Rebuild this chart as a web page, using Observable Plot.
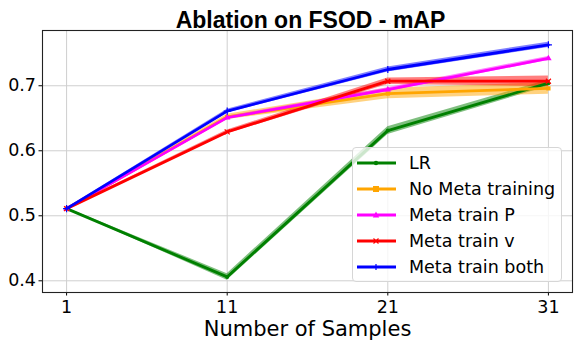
<!DOCTYPE html>
<html>
<head>
<meta charset="utf-8">
<script src="https://cdn.jsdelivr.net/npm/d3@7"></script>
<script src="https://cdn.jsdelivr.net/npm/@observablehq/plot@0.6"></script>
<style>
  html, body { margin: 0; padding: 0; background: white; }
  #wrap { position: relative; width: 581px; height: 349px; }
  #legend { position: absolute; left: 352px; top: 147px; width: 210px; height: 135px;
    background: rgba(255,255,255,0.8); border: 1px solid #d6d6d6; border-radius: 4px;
    font-family: "DejaVu Sans"; font-size: 17.5px; color: black; box-sizing: border-box; }
  .row { position: absolute; left: 0; height: 26px; display: flex; align-items: center; }
  .row svg { margin-left: 4px; }
  .row span { margin-left: 13px; white-space: nowrap; }
</style>
</head>
<body>
<div id="wrap"></div>
<script>
const title = "Ablation on FSOD - mAP";
const xLabel = "Number of Samples";
const samples = [1, 11, 21, 31];
const xTicks = [1, 11, 21, 31];
const yTicks = [0.4, 0.5, 0.6, 0.7];

const seriesNames = ["LR", "No Meta training", "Meta train P", "Meta train v", "Meta train both"];
const seriesColors = ["#008000", "#FFA500", "#FF00FF", "#FF0000", "#0000FF"];
const seriesSymbols = ["circle", "square", "triangle", "times", "plus"];

const lrValues       = [0.511, 0.406, 0.631, 0.704];
const noMetaValues   = [0.511, 0.652, 0.688, 0.696];
const metaPValues    = [0.511, 0.651, 0.694, 0.742];
const metaVValues    = [0.511, 0.629, 0.707, 0.707];
const metaBothValues = [0.511, 0.661, 0.725, 0.763];

const lrStd       = [0.001, 0.005, 0.006, 0.005];
const noMetaStd   = [0.001, 0.004, 0.008, 0.009];
const metaPStd    = [0.001, 0.002, 0.003, 0.003];
const metaVStd    = [0.001, 0.003, 0.005, 0.008];
const metaBothStd = [0.001, 0.003, 0.004, 0.004];

const allValues = [lrValues, noMetaValues, metaPValues, metaVValues, metaBothValues];
const allStd = [lrStd, noMetaStd, metaPStd, metaVStd, metaBothStd];

const rows = [];
seriesNames.forEach((name, i) => {
  samples.forEach((s, j) => {
    rows.push({series: name, x: s, y: allValues[i][j], lo: allValues[i][j] - allStd[i][j], hi: allValues[i][j] + allStd[i][j], idx: i});
  });
});

const marks = [
  Plot.gridX(xTicks, {stroke: "#cfcfcf", strokeOpacity: 1, strokeWidth: 1}),
  Plot.gridY(yTicks, {stroke: "#cfcfcf", strokeOpacity: 1, strokeWidth: 1}),
];
seriesNames.forEach((name, i) => {
  const d = rows.filter(r => r.series === name);
  marks.push(Plot.areaY(d, {x: "x", y1: "lo", y2: "hi", fill: seriesColors[i], fillOpacity: 0.5}));
});
seriesNames.forEach((name, i) => {
  const d = rows.filter(r => r.series === name);
  marks.push(Plot.lineY(d, {x: "x", y: "y", stroke: seriesColors[i], strokeWidth: 2.8}));
  const stroky = seriesSymbols[i] === "times" || seriesSymbols[i] === "plus";
  marks.push(Plot.dot(d, {x: "x", y: "y", symbol: () => seriesSymbols[i],
    r: seriesSymbols[i] === "circle" ? 2 : 2.4,
    fill: stroky ? "none" : seriesColors[i], stroke: stroky ? seriesColors[i] : "none", strokeWidth: 1.2}));
});
marks.push(Plot.frame({stroke: "#222", strokeWidth: 1.1}));
marks.push(Plot.text([title], {frameAnchor: "top", dy: -19, dx: 3, fontFamily: "Liberation Sans", fontWeight: "bold", fontSize: 23, fill: "black"}));
marks.push(Plot.text([xLabel], {frameAnchor: "bottom", dy: 43, fontFamily: "DejaVu Sans", fontSize: 21, fill: "black"}));

const chart = Plot.plot({
  width: 581, height: 349,
  marginLeft: 42, marginRight: 9, marginTop: 30, marginBottom: 57,
  style: {fontFamily: "DejaVu Sans", fontSize: "17.5px", color: "black", background: "white", overflow: "visible"},
  x: {domain: [-0.5, 32.5], ticks: xTicks, tickSize: 3.5, tickPadding: 5, label: null},
  y: {domain: [0.382, 0.785], ticks: yTicks, tickFormat: ".1f", tickSize: 3.5, tickPadding: 3, label: null},
  marks
});
const wrap = document.getElementById("wrap");
wrap.appendChild(chart);

// legend
const legend = document.createElement("div");
legend.id = "legend";
seriesNames.forEach((name, i) => {
  const row = document.createElement("div");
  row.className = "row";
  row.style.top = (2 + 26 * i) + "px";
  const c = seriesColors[i];
  let m = "";
  const cx = 19, cy = 13;
  switch (seriesSymbols[i]) {
    case "circle": m = `<circle cx="${cx}" cy="${cy}" r="2.2" fill="${c}"/>`; break;
    case "square": m = `<rect x="${cx-3}" y="${cy-3}" width="6" height="6" fill="${c}"/>`; break;
    case "triangle": m = `<path d="M${cx},${cy-3.5}L${cx+3.2},${cy+2.5}L${cx-3.2},${cy+2.5}Z" fill="${c}"/>`; break;
    case "times": m = `<path d="M${cx-2.5},${cy-2.5}L${cx+2.5},${cy+2.5}M${cx+2.5},${cy-2.5}L${cx-2.5},${cy+2.5}" stroke="${c}" stroke-width="1.2"/>`; break;
    case "plus": m = `<path d="M${cx-3},${cy}L${cx+3},${cy}M${cx},${cy-3}L${cx},${cy+3}" stroke="${c}" stroke-width="1.2"/>`; break;
  }
  row.innerHTML = `<svg width="39" height="26"><line x1="0" x2="39" y1="${cy}" y2="${cy}" stroke="${c}" stroke-width="2.8"/>${m}</svg><span>${name}</span>`;
  legend.appendChild(row);
});
wrap.appendChild(legend);
</script>
</body>
</html>
